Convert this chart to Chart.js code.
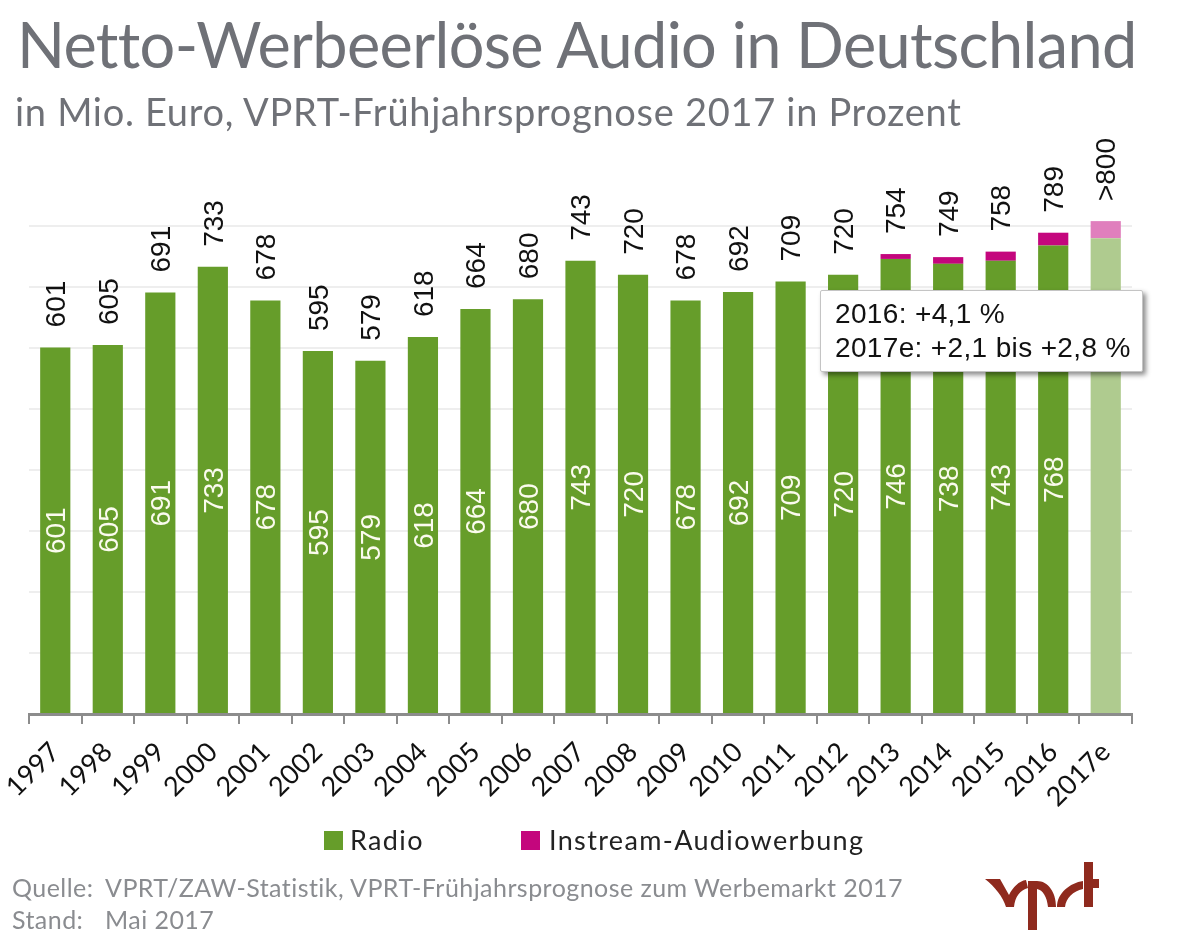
<!DOCTYPE html>
<html lang="de">
<head>
<meta charset="utf-8">
<title>Netto-Werbeerlöse Audio in Deutschland</title>
<script src="https://cdn.jsdelivr.net/npm/chart.js@4"></script>
<style>
  html, body { margin: 0; padding: 0; background: #fff; }
  #page { position: relative; width: 1200px; height: 941px; overflow: hidden; font-family: Lato, sans-serif; }
  #page > div, #page > svg { position: absolute; white-space: nowrap; }
  canvas { position: absolute; left: 0; top: 0; }
  #title { left: 17px; top: 5px; font-size: 63px; line-height: 78px; letter-spacing: -0.65px; color: #6f7177; }
  #subtitle { left: 15px; top: 88px; font-size: 38px; line-height: 46px; letter-spacing: 0.7px; color: #6f7177; }
  #note { left: 820px; top: 290px; width: 321px; height: 80px; background: #fff; border: 1px solid #c4c4c4;
          border-radius: 2px; box-shadow: 3px 3px 5px rgba(0,0,0,.45);
          font-family: "Liberation Sans", sans-serif; font-size: 28px; line-height: 34px; letter-spacing: 0.35px; color: #111; }
  #note span { display: block; margin-left: 14px; }
  #note span:first-child { margin-top: 6px; }
  .legend { font-size: 27px; line-height: 32px; letter-spacing: 1.35px; color: #222; top: 824px; }
  .swatch { width: 19px; height: 19px; top: 831px; }
  .foot { font-size: 25px; line-height: 32px; letter-spacing: 0.45px; color: #8a8c90; }
</style>
</head>
<body>
<div id="page">
  <canvas id="chart" width="1200" height="941"></canvas>
  <div id="title">Netto-Werbeerlöse Audio in Deutschland</div>
  <div id="subtitle">in Mio. Euro, VPRT-Frühjahrsprognose 2017 in Prozent</div>
  <div id="note"><span>2016: +4,1 %</span><span>2017e: +2,1 bis +2,8 %</span></div>
  <div class="swatch" id="swatchRadio" style="left:324px"></div>
  <div class="legend" id="legendRadio" style="left:350px"></div>
  <div class="swatch" id="swatchInstream" style="left:521px"></div>
  <div class="legend" id="legendInstream" style="left:549px"></div>
  <div class="foot" style="left:12px;top:871px">Quelle:</div>
  <div class="foot" style="left:105px;top:871px">VPRT/ZAW-Statistik, VPRT-Frühjahrsprognose zum Werbemarkt 2017</div>
  <div class="foot" style="left:12px;top:903px">Stand:</div>
  <div class="foot" style="left:105px;top:903px">Mai 2017</div>
  <!-- vprt logo -->
  <svg style="left:980px;top:855px" width="125" height="85" viewBox="980 855 125 85" fill="#8f2a1e">
    <path d="M985 879 L1000 879 L1009 895 C1013 887 1019 881 1026 880 L1028 888 C1020 890 1015 897 1014 907 L1006 907 C1003 897 995 887 985 879 Z"/>
    <path d="M1028 881 L1037 881 L1037 930 L1028 930 Z"/>
    <path d="M1037 881 C1048 881 1056 892 1056 907 L1048 907 C1047 897 1043 890 1037 889 Z"/>
    <path d="M1083 881 C1070 883 1057 893 1057 907 L1065 907 C1066 898 1073 891 1083 889 Z"/>
    <path d="M1084 862 L1093 862 L1093 879 L1099 879 L1099 888 L1093 888 L1093 907 L1084 907 Z"/>
  </svg>
</div>
<script>
const categories = ['1997','1998','1999','2000','2001','2002','2003','2004','2005','2006','2007','2008','2009','2010','2011','2012','2013','2014','2015','2016','2017e'];
const radioValues = [601,605,691,733,678,595,579,618,664,680,743,720,678,692,709,720,746,738,743,768,780];
const instreamValues = [0,0,0,0,0,0,0,0,0,0,0,0,0,0,0,0,8,11,15,21,28];
const totalLabels = ['601','605','691','733','678','595','579','618','664','680','743','720','678','692','709','720','754','749','758','789','>800'];
const innerLabels = ['601','605','691','733','678','595','579','618','664','680','743','720','678','692','709','720','746','738','743','768',''];

const GREEN = '#669d2a', GREEN_LIGHT = '#afcb8f';
const PINK = '#c4067d', PINK_LIGHT = '#e07fbd';
const lastIndex = categories.length - 1;

document.getElementById('swatchRadio').style.background = GREEN;
document.getElementById('swatchInstream').style.background = PINK;
document.getElementById('legendRadio').textContent = 'Radio';
document.getElementById('legendInstream').textContent = 'Instream-Audiowerbung';

// Rotated value labels, above the stack and inside the green bar
const valueLabels = {
  id: 'valueLabels',
  afterDatasetsDraw(chart) {
    const { ctx, scales: { x, y } } = chart;
    ctx.save();
    ctx.font = '28px "Liberation Sans"';
    ctx.textBaseline = 'middle';
    categories.forEach((cat, i) => {
      const px = x.getPixelForValue(i) + 2;
      const top = y.getPixelForValue(radioValues[i] + instreamValues[i]);
      const mid = y.getPixelForValue(radioValues[i] / 2);

      ctx.save();
      ctx.translate(px, top - 20);
      ctx.rotate(-Math.PI / 2);
      ctx.textAlign = 'left';
      ctx.fillStyle = '#111';
      ctx.fillText(totalLabels[i], 0, 0);
      ctx.restore();

      if (innerLabels[i]) {
        ctx.save();
        ctx.translate(px, mid);
        ctx.rotate(-Math.PI / 2);
        ctx.textAlign = 'center';
        ctx.fillStyle = '#fbfbee';
        ctx.fillText(innerLabels[i], 0, 0);
        ctx.restore();
      }
    });
    ctx.restore();
  }
};

new Chart(document.getElementById('chart').getContext('2d'), {
  type: 'bar',
  data: {
    labels: categories,
    datasets: [
      {
        label: 'Radio',
        data: radioValues,
        backgroundColor: ctx => ctx.dataIndex === lastIndex ? GREEN_LIGHT : GREEN,
        stack: 'audio',
        categoryPercentage: 1,
        barPercentage: 0.575
      },
      {
        label: 'Instream-Audiowerbung',
        data: instreamValues,
        backgroundColor: ctx => ctx.dataIndex === lastIndex ? PINK_LIGHT : PINK,
        stack: 'audio',
        categoryPercentage: 1,
        barPercentage: 0.575
      }
    ]
  },
  options: {
    responsive: false,
    animation: false,
    layout: { padding: { left: 29, right: 68, top: 165, bottom: 127 } },
    plugins: { legend: { display: false }, title: { display: false }, tooltip: { enabled: false } },
    scales: {
      x: {
        stacked: true,
        afterFit(scale) {
          // keep the plot edges fixed, the rotated labels may overhang
          scale.height = 100;
          scale.paddingLeft = 0;
          scale.paddingRight = 0;
        },
        border: { color: '#8c8c8c', width: 3 },
        grid: { drawOnChartArea: false, offset: true, color: '#8c8c8c', lineWidth: 2, tickLength: 10 },
        ticks: {
          color: '#111',
          font: { family: 'Lato', size: 27 },
          minRotation: 45,
          maxRotation: 45,
          autoSkip: false,
          padding: 12
        }
      },
      y: {
        stacked: true,
        min: 0,
        max: 900,
        afterFit(scale) { scale.width = 0; },
        afterBuildTicks(scale) { scale.ticks = scale.ticks.filter(t => t.value <= 800); },
        border: { display: false },
        grid: { color: '#eeeeee', lineWidth: 2, drawTicks: false },
        ticks: { display: false, stepSize: 100 }
      }
    }
  },
  plugins: [valueLabels]
});
</script>
</body>
</html>
